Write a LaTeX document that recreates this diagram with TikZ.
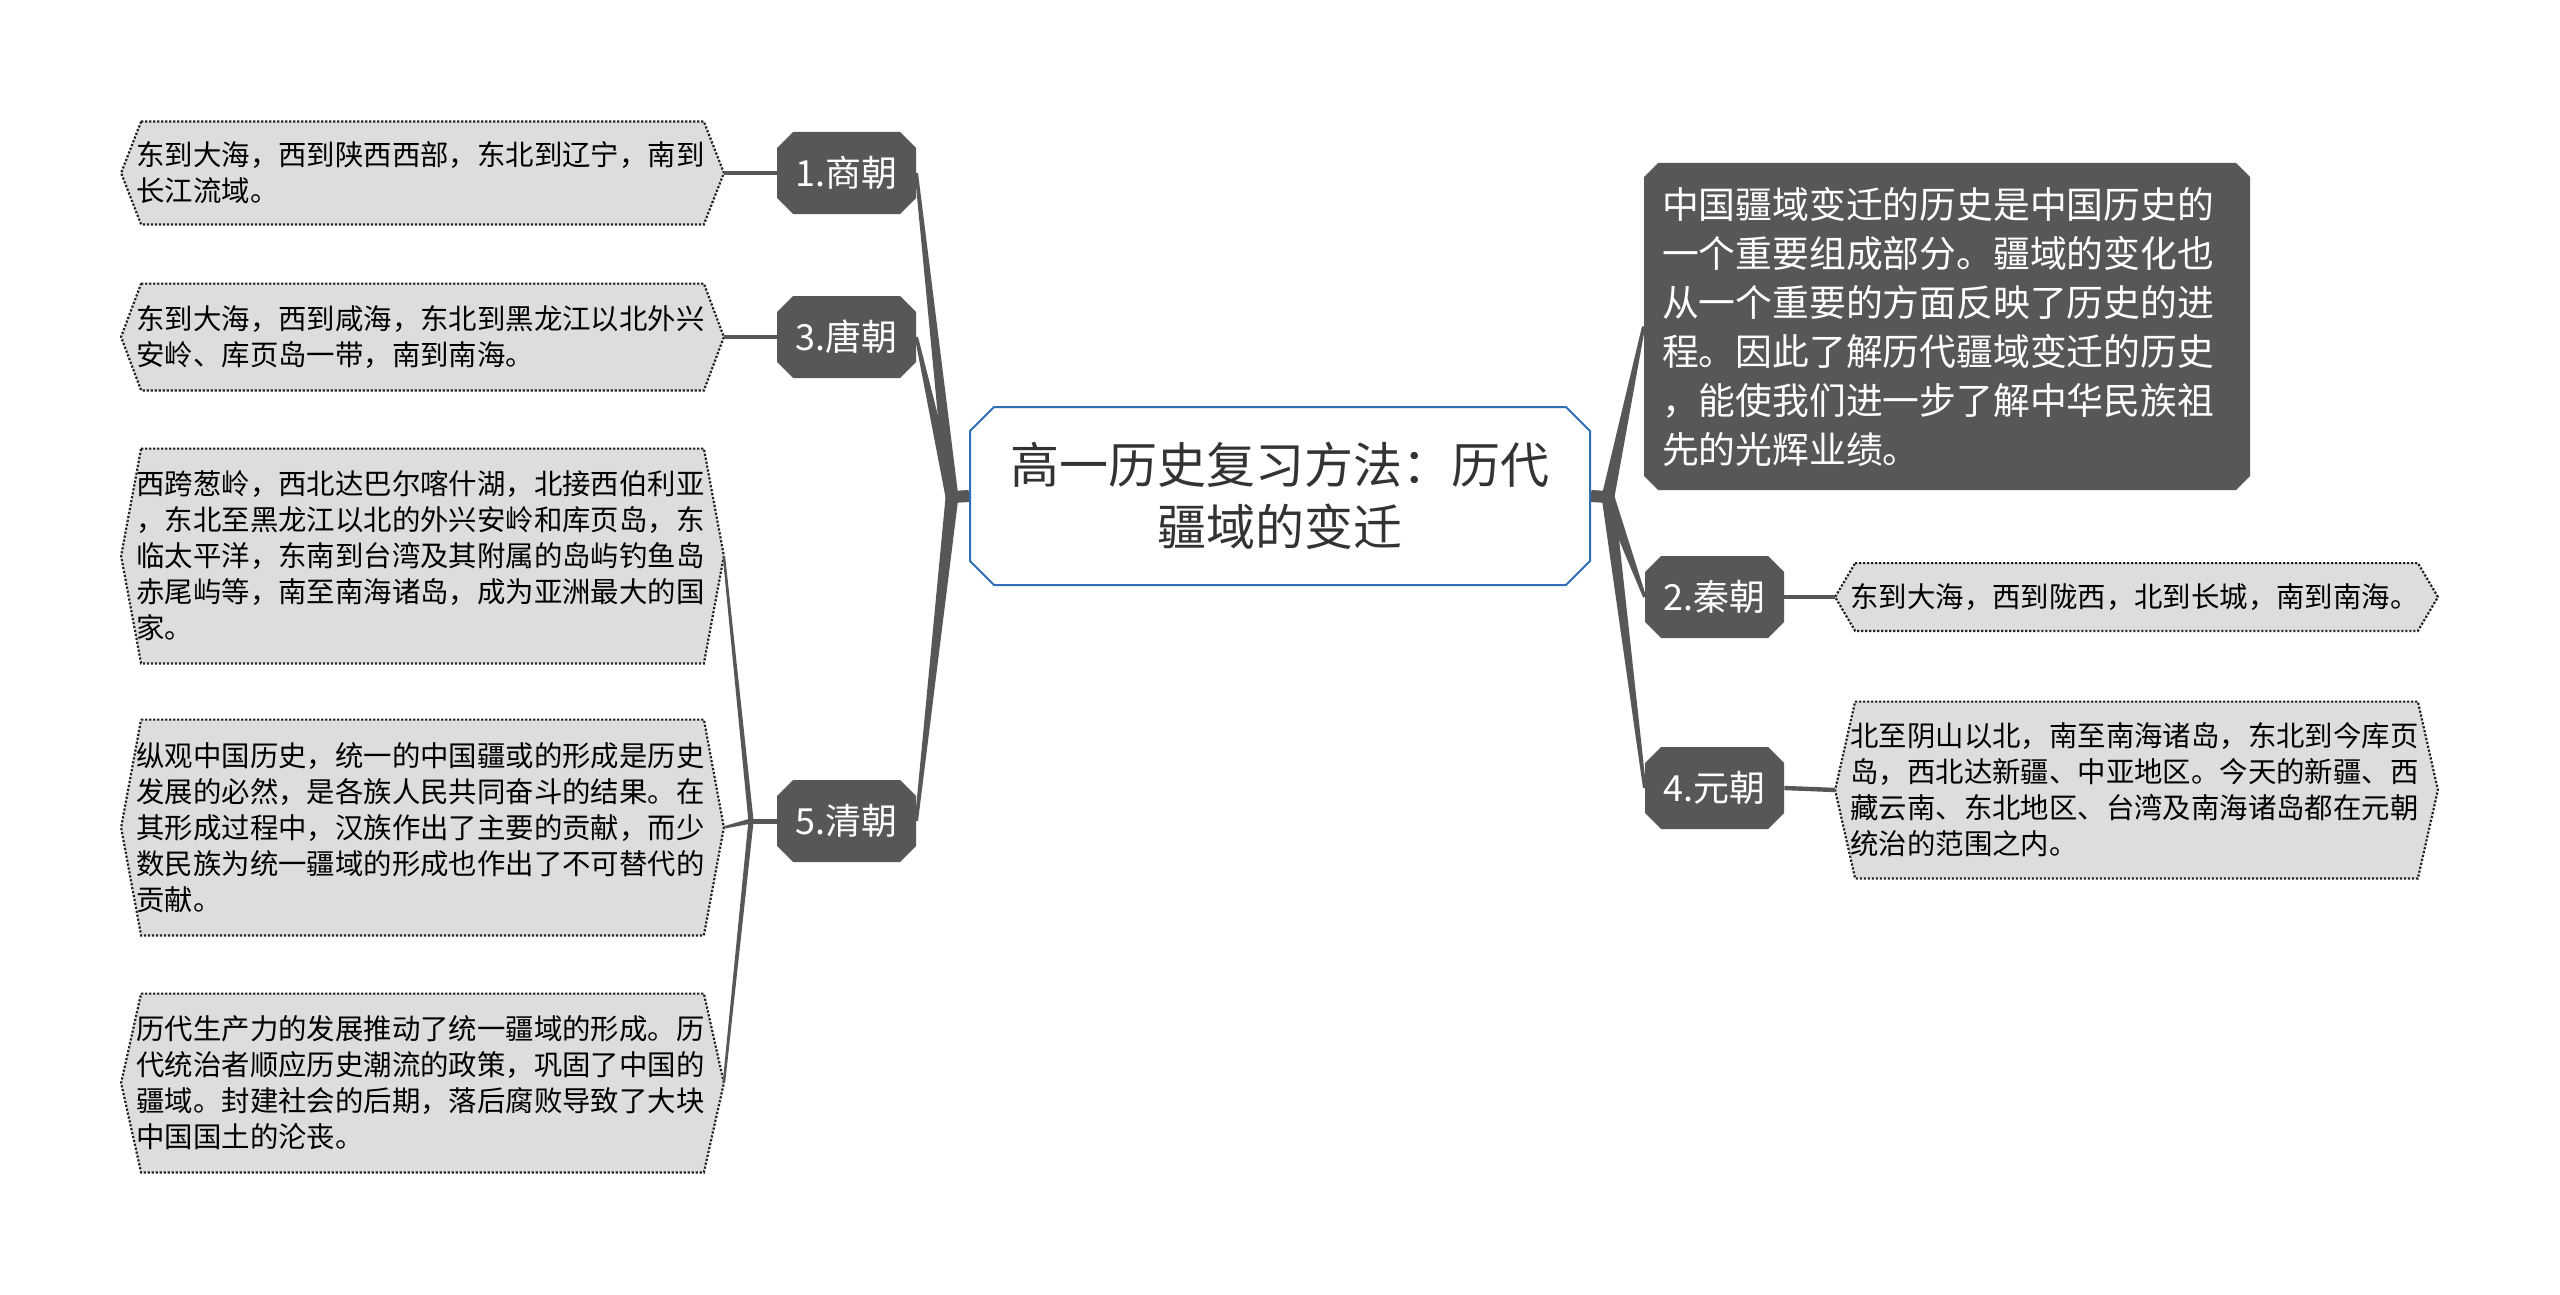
\documentclass[tikz,border=0pt]{standalone}
\usepackage{fontspec}
\setmainfont{Noto Sans CJK SC}
\usetikzlibrary{shapes.misc,calc,backgrounds}
\definecolor{nodegray}{HTML}{575757}
\definecolor{leaffill}{HTML}{DDDDDD}
\definecolor{leafline}{HTML}{222222}
\definecolor{rootblue}{HTML}{2F6DB5}
\definecolor{titletext}{HTML}{333333}
\newcommand\taperline[4]{\fill[nodegray] ($(#1)!#3!90:(#2)$) -- ($(#2)!#4!-90:(#1)$) -- ($(#2)!#4!90:(#1)$) -- ($(#1)!#3!-90:(#2)$) -- cycle;}
\newcommand\hexleaf[1]{\path[leafbox] ([xshift=2.5pt]#1.north west) -- ([xshift=-2.5pt]#1.north east) -- ([xshift=7.5pt]#1.east) -- ([xshift=-2.5pt]#1.south east) -- ([xshift=2.5pt]#1.south west) -- ([xshift=-7.5pt]#1.west) -- cycle;}
\begin{document}
\begin{tikzpicture}[x=0.5pt,y=-0.5pt,
  dyn/.style={chamfered rectangle, chamfered rectangle xsep=4pt, chamfered rectangle ysep=4pt,
    fill=nodegray, draw=none, text=white, font=\fontsize{18pt}{22pt}\selectfont,
    minimum width=69.5pt, minimum height=41pt, inner sep=0pt},
  leaf/.style={text width=286pt, align=left, inner xsep=0pt, inner ysep=0pt,
    font=\fontsize{14.2pt}{18pt}\selectfont, text=black},
  leafbox/.style={fill=leaffill, draw=leafline, line width=1.1pt, dash pattern=on 1.1pt off 0.9pt},
  conn/.style={draw=nodegray, line width=2.2pt}]
\useasboundingbox (0,0) rectangle (2560,1295);

% central node
\node[chamfered rectangle, chamfered rectangle xsep=6pt, chamfered rectangle ysep=6pt,
  fill=white, draw=rootblue, line width=1pt, minimum width=310pt, minimum height=89pt,
  align=center, text=titletext, font=\fontsize{24.5pt}{31pt}\selectfont] (center) at (1280,496)
  {高一历史复习方法：历代\\疆域的变迁};

% dynasty nodes
\node[dyn] (d1) at (846.5,173) {1.商朝};
\node[dyn] (d3) at (846.5,337) {3.唐朝};
\node[dyn] (d5) at (846.5,821) {5.清朝};
\node[dyn] (d2) at (1714.5,597) {2.秦朝};
\node[dyn] (d4) at (1714.5,788) {4.元朝};

% description node
\node[chamfered rectangle, chamfered rectangle xsep=3.5pt, chamfered rectangle ysep=3.5pt,
  fill=nodegray, draw=none, text=white, minimum width=303pt, minimum height=163.5pt,
  text width=285pt, align=left, font=\fontsize{18.4pt}{24.5pt}\selectfont] (desc) at (1947,326.5)
  {中国疆域变迁的历史是中国历史的\\一个重要组成部分。疆域的变化也\\从一个重要的方面反映了历史的进\\程。因此了解历代疆域变迁的历史\\，能使我们进一步了解中华民族祖\\先的光辉业绩。};

% leaves
\node[leaf, minimum height=51pt] (sl) at (422.5,173)
  {东到大海，西到陕西西部，东北到辽宁，南到\\长江流域。};
\node[leaf, minimum height=53pt] (tl) at (422.5,337)
  {东到大海，西到咸海，东北到黑龙江以北外兴\\安岭、库页岛一带，南到南海。};
\node[leaf, minimum height=107pt] (q1) at (422.5,556)
  {西跨葱岭，西北达巴尔喀什湖，北接西伯利亚\\，东北至黑龙江以北的外兴安岭和库页岛，东\\临太平洋，东南到台湾及其附属的岛屿钓鱼岛\\赤尾屿等，南至南海诸岛，成为亚洲最大的国\\家。};
\node[leaf, minimum height=107.5pt] (q2) at (422.5,827.5)
  {纵观中国历史，统一的中国疆或的形成是历史\\发展的必然，是各族人民共同奋斗的结果。在\\其形成过程中，汉族作出了主要的贡献，而少\\数民族为统一疆域的形成也作出了不可替代的\\贡献。};
\node[leaf, minimum height=89pt] (q3) at (422.5,1083)
  {历代生产力的发展推动了统一疆域的形成。历\\代统治者顺应历史潮流的政策，巩固了中国的\\疆域。封建社会的后期，落后腐败导致了大块\\中国国土的沦丧。};
\node[leaf, minimum height=33.5pt] (qin) at (2136.5,597)
  {东到大海，西到陇西，北到长城，南到南海。};
\node[leaf, minimum height=88pt] (yl) at (2136.5,790)
  {北至阴山以北，南至南海诸岛，东北到今库页\\岛，西北达新疆、中亚地区。今天的新疆、西\\藏云南、东北地区、台湾及南海诸岛都在元朝\\统治的范围之内。};

% coordinates
\coordinate (lroot) at (952,497);
\coordinate (rroot) at (1608,497);
\coordinate (qroot) at (751,821);
\coordinate (slt) at ([xshift=7.5pt]sl.east);
\coordinate (tlt) at ([xshift=7.5pt]tl.east);
\coordinate (q1t) at ([xshift=7.5pt]q1.east);
\coordinate (q2t) at ([xshift=7.5pt]q2.east);
\coordinate (q3t) at ([xshift=7.5pt]q3.east);
\coordinate (qint) at ([xshift=-7.5pt]qin.west);
\coordinate (ylt) at ([xshift=-7.5pt]yl.west);

\begin{scope}[on background layer]
  \fill[white] (0,0) rectangle (2560,1295);
  \hexleaf{sl}
  \hexleaf{tl}
  \hexleaf{q1}
  \hexleaf{q2}
  \hexleaf{q3}
  \hexleaf{qin}
  \hexleaf{yl}
  % trunks
  \draw[nodegray, line width=6pt] (center.west) -- (lroot);
  \draw[nodegray, line width=6pt] (center.east) -- (rroot);
  \taperline{lroot}{d1.east}{3.2pt}{0.8pt}
  \taperline{lroot}{d3.east}{3.2pt}{0.8pt}
  \taperline{lroot}{d5.east}{3.2pt}{0.8pt}
  \taperline{rroot}{desc.west}{3.2pt}{0.8pt}
  \taperline{rroot}{d2.west}{3.2pt}{0.8pt}
  \taperline{rroot}{d4.west}{3.2pt}{0.8pt}
  % Qing sub-branches
  \draw[nodegray, line width=2.5pt] (d5.west) -- (qroot);
  \taperline{qroot}{q1t}{1.3pt}{0.6pt}
  \taperline{qroot}{q2t}{1.3pt}{0.6pt}
  \taperline{qroot}{q3t}{1.3pt}{0.6pt}
  % simple connectors
  \draw[conn] (d1.west) -- (slt);
  \draw[conn] (d3.west) -- (tlt);
  \draw[conn] (d2.east) -- (qint);
  \draw[conn] (d4.east) -- (ylt);
\end{scope}
\end{tikzpicture}
\end{document}
